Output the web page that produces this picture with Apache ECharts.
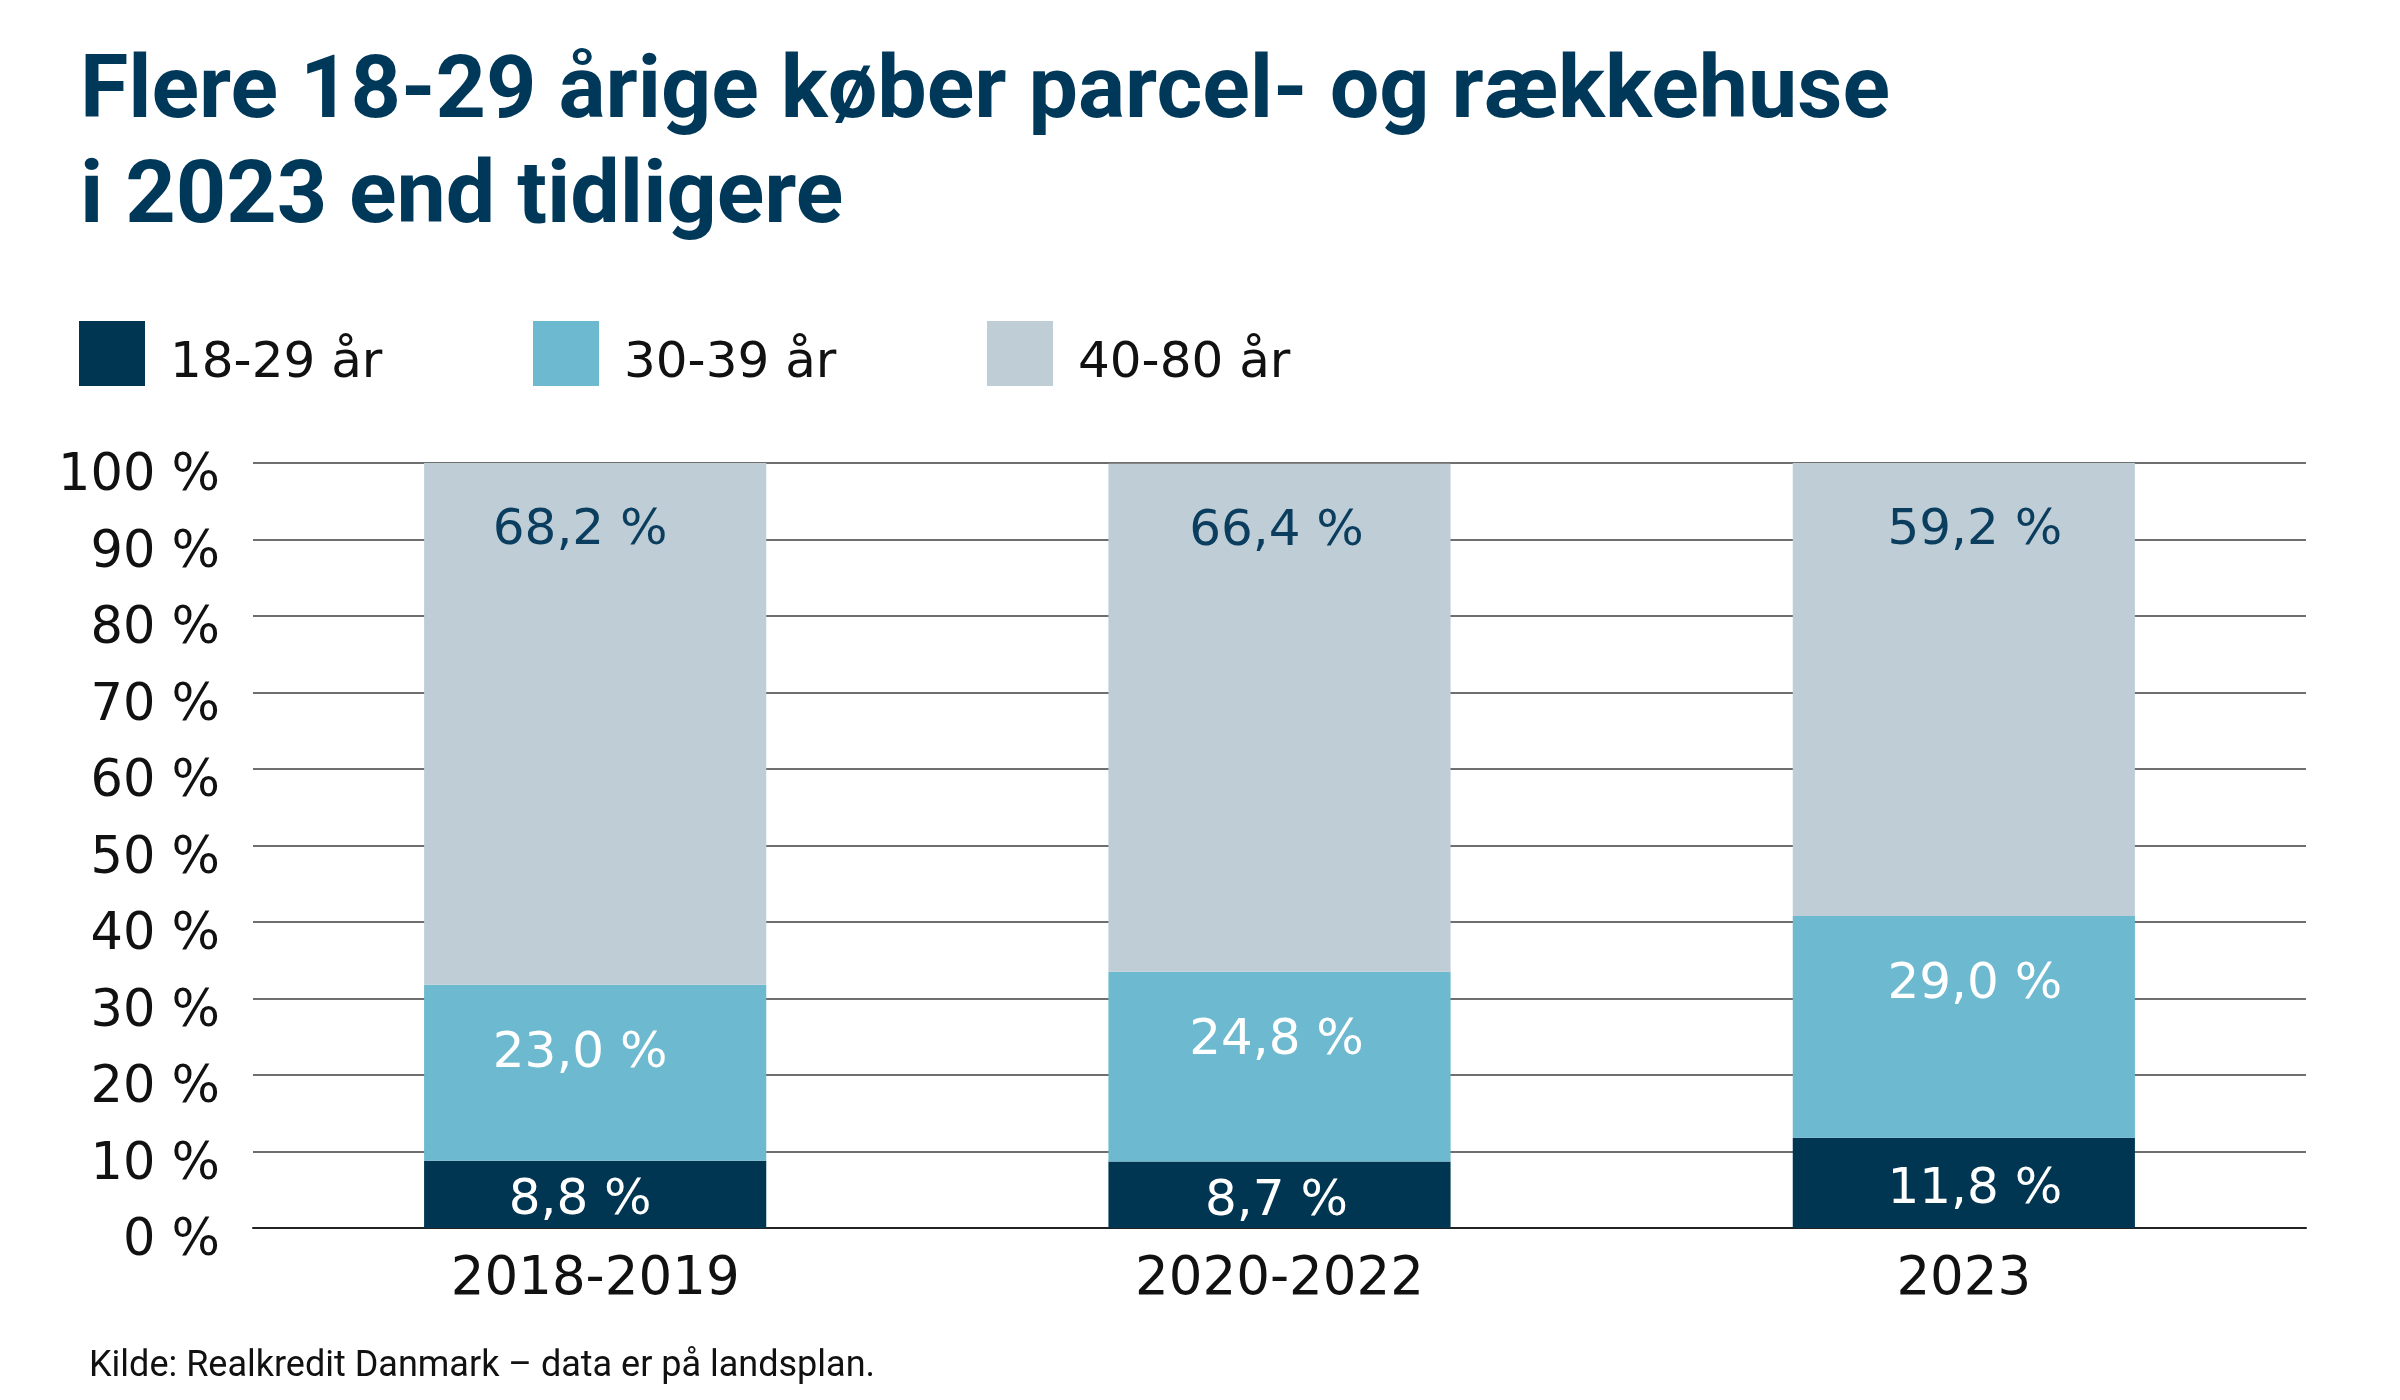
<!DOCTYPE html>
<html>
<head>
<meta charset="utf-8">
<script src="https://cdn.jsdelivr.net/npm/echarts@6/dist/echarts.min.js"></script>
<style>
  html, body { margin: 0; padding: 0; background: #ffffff; }
  #chart { width: 2400px; height: 1400px; }
</style>
</head>
<body>
<div id="chart"></div>
<script>
// ---- Data ----
var titleText = 'Flere 18-29 årige køber parcel- og rækkehuse\ni 2023 end tidligere';
var sourceText = 'Kilde: Realkredit Danmark – data er på landsplan.';
var categories = ['2018-2019', '2020-2022', '2023'];
var seriesNames = ['18-29 år', '30-39 år', '40-80 år'];
var age18to29 = [8.8, 8.7, 11.8];
var age30to39 = [23.0, 24.8, 29.0];
var age40to80 = [68.2, 66.4, 59.2];
var yTicks = [0, 10, 20, 30, 40, 50, 60, 70, 80, 90, 100];

// ---- Styles ----
var colors = ['#003652', '#6db9cf', '#bfced6'];
var bodyFont = 'DejaVu Sans';
var titleFont = "'Liberation Sans Narrow', 'Roboto', sans-serif";
var labelShiftX = [-15, -3, 11];   // per-bar horizontal nudge of value labels

function fmt(v) { return v.toFixed(1).replace('.', ',') + ' %'; }

function withLabelShift(values, dy) {
  return values.map(function (v, i) {
    return { value: v, label: { offset: [labelShiftX[i], dy] } };
  });
}

var chart = echarts.init(document.getElementById('chart'), null, { renderer: 'canvas' });

function legendFor(i, left) {
  return {
    data: [seriesNames[i]],
    left: left,
    top: 318,
    padding: 0,
    icon: 'rect',
    itemWidth: 66,
    itemHeight: 65,
    selectedMode: false,
    // empty first line pushes the label slightly below the swatch centre
    formatter: function (name) { return '\n' + name; },
    textStyle: {
      fontFamily: bodyFont,
      fontSize: 50,
      lineHeight: 21,
      color: '#111111',
      padding: [0, 0, 0, 20]
    }
  };
}

var option = {
  backgroundColor: '#ffffff',
  animation: false,
  title: [
    {
      text: titleText,
      left: 75,
      top: 37,
      textStyle: {
        fontFamily: titleFont,
        fontWeight: 'bold',
        fontSize: 88,
        lineHeight: 105,
        color: '#00385a'
      }
    },
    {
      text: sourceText,
      left: 84,
      top: 1343,
      textStyle: {
        fontFamily: titleFont,
        fontWeight: 'normal',
        fontSize: 36,
        lineHeight: 37,
        color: '#111111'
      }
    }
  ],
  legend: [legendFor(0, 79), legendFor(1, 533), legendFor(2, 987)],
  grid: {
    left: 253,
    right: 94,
    top: 463,
    bottom: 172,
    containLabel: false
  },
  xAxis: {
    type: 'category',
    data: categories,
    axisTick: { show: false },
    axisLine: { show: true, lineStyle: { color: '#222222', width: 2 } },
    axisLabel: {
      fontFamily: bodyFont,
      fontSize: 53,
      color: '#111111',
      margin: 26
    }
  },
  yAxis: {
    type: 'value',
    min: 0,
    max: 100,
    interval: 10,
    axisLine: { show: false },
    axisTick: { show: false },
    splitLine: { show: true, lineStyle: { color: '#6f6f6f', width: 2 } },
    axisLabel: {
      fontFamily: bodyFont,
      fontSize: 51,
      color: '#111111',
      margin: 33,
      verticalAlign: 'top',
      lineHeight: 28,
      formatter: function (v) { return yTicks.indexOf(v) >= 0 ? v + ' %' : ''; }
    }
  },
  series: [
    {
      name: seriesNames[0],
      type: 'bar',
      stack: 'total',
      barWidth: '50%',
      data: withLabelShift(age18to29, 7),
      itemStyle: { color: colors[0] },
      label: {
        show: true,
        position: 'inside',
        fontFamily: bodyFont,
        fontSize: 50,
        color: '#ffffff',
        formatter: function (p) { return fmt(p.value); }
      }
    },
    {
      name: seriesNames[1],
      type: 'bar',
      stack: 'total',
      barWidth: '50%',
      data: withLabelShift(age30to39, 0),
      itemStyle: { color: colors[1] },
      label: {
        show: true,
        position: 'insideTop',
        distance: 44,
        fontFamily: bodyFont,
        fontSize: 50,
        color: '#ffffff',
        formatter: function (p) { return fmt(p.value); }
      }
    },
    {
      name: seriesNames[2],
      type: 'bar',
      stack: 'total',
      barWidth: '50%',
      data: withLabelShift(age40to80, 0),
      itemStyle: { color: colors[2] },
      label: {
        show: true,
        position: 'insideTop',
        distance: 43,
        fontFamily: bodyFont,
        fontSize: 50,
        color: '#0b3d5e',
        formatter: function (p) { return fmt(p.value); }
      }
    }
  ]
};

chart.setOption(option);
</script>
</body>
</html>
